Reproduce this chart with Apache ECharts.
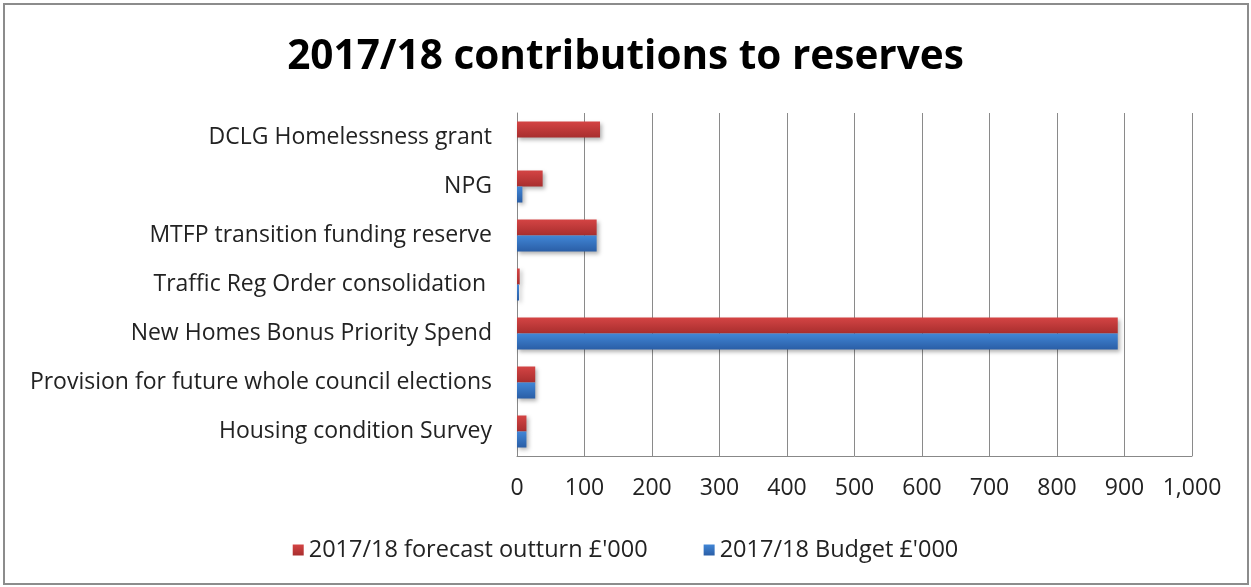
<!DOCTYPE html>
<html><head><meta charset="utf-8">
<script src="https://cdn.jsdelivr.net/npm/echarts@6/dist/echarts.min.js"></script>
<style>
html,body{margin:0;padding:0;background:#fff;}
#frame{position:absolute;left:3px;top:3px;width:1242px;height:578px;border:2px solid #8c8c8c;}
#c{position:absolute;left:0;top:0;width:1251px;height:587px;}
</style></head>
<body>
<div id="frame"></div>
<div id="c"></div>
<script>
const categories = [
  "Housing condition Survey",
  "Provision for future whole council elections",
  "New Homes Bonus Priority Spend",
  "Traffic Reg Order consolidation ",
  "MTFP transition funding reserve",
  "NPG",
  "DCLG Homelessness grant"
];
const forecastName = "2017/18 forecast outturn £'000";
const budgetName = "2017/18 Budget £'000";
const forecastValues = [14, 27, 890, 4, 118, 38, 123];
const budgetValues = [14, 27, 890, 3, 118, 8, 0];
const xTicks = { min: 0, max: 1000, interval: 100 };

const chart = echarts.init(document.getElementById('c'));
const F = '"Open Sans", Lato, sans-serif';
function grad(top, bottom){
  return new echarts.graphic.LinearGradient(0,0,0,1,[{offset:0,color:top},{offset:1,color:bottom}]);
}
chart.setOption({
  animation:false,
  title:{text:'2017/18 contributions to reserves',left:'center',top:32,
    textStyle:{fontFamily:F,fontWeight:'bold',fontSize:40.5,color:'#000'}},
  legend:{bottom:20,left:'center',itemWidth:11,itemHeight:11,itemGap:56,icon:'rect',
    data:[forecastName,budgetName],
    textStyle:{fontFamily:F,fontSize:23.5,color:'#222'}},
  grid:{left:517,right:59,top:113,bottom:131,containLabel:false},
  xAxis:{type:'value',min:xTicks.min,max:xTicks.max,interval:xTicks.interval,
    axisLine:{show:true,lineStyle:{color:'#888'}},
    axisTick:{show:false},
    axisLabel:{fontFamily:F,fontSize:23,color:'#222',margin:21,
      formatter:v=>v.toLocaleString('en-US')},
    splitLine:{show:true,lineStyle:{color:'#8a8a8a',width:1}}},
  yAxis:{type:'category',data:categories,
    axisLine:{show:true,lineStyle:{color:'#888'}},
    axisTick:{show:false},
    axisLabel:{fontFamily:F,fontSize:23,color:'#222',margin:25}},
  series:[
    {name:forecastName,type:'bar',data:forecastValues,barWidth:16,barGap:'0%',
      itemStyle:{color:grad('#d44444','#a82e2e'),shadowColor:'rgba(0,0,0,0.3)',shadowBlur:4,shadowOffsetX:2,shadowOffsetY:2}},
    {name:budgetName,type:'bar',data:budgetValues,barWidth:16,barGap:'0%',
      itemStyle:{color:grad('#4186d6','#2a5ea6'),shadowColor:'rgba(0,0,0,0.3)',shadowBlur:4,shadowOffsetX:2,shadowOffsetY:2}}
  ]
});
</script>
</body></html>
